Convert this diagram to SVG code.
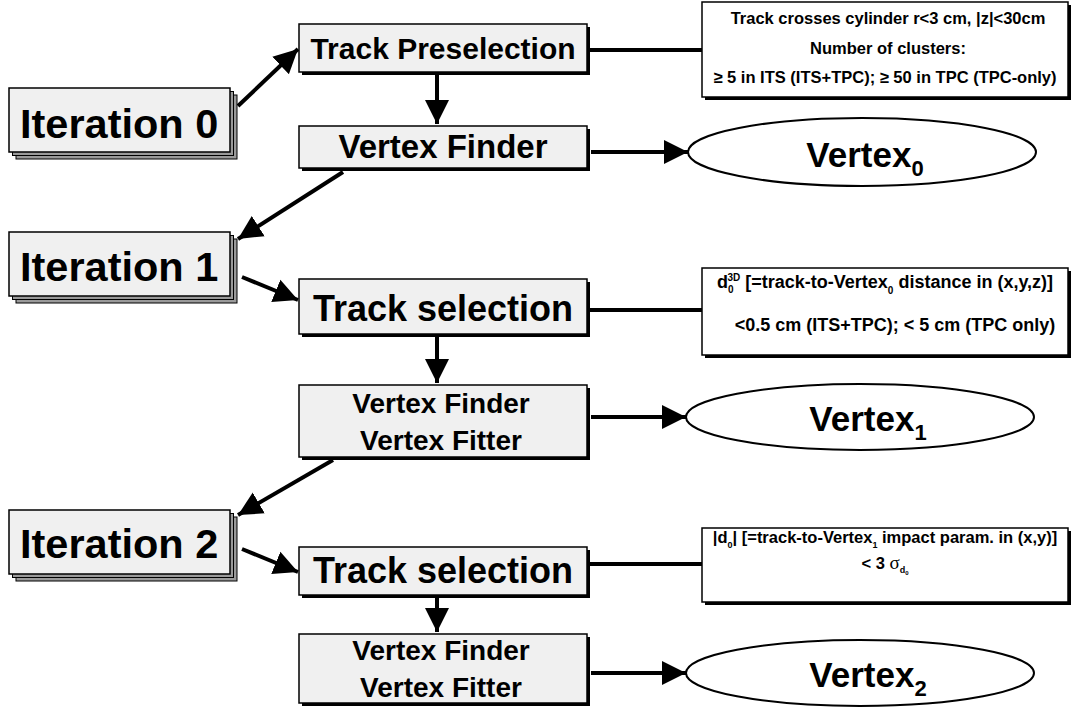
<svg xmlns="http://www.w3.org/2000/svg" width="1075" height="708" viewBox="0 0 1075 708">
  <defs>
    <marker id="arrow" viewBox="0 0 10 10" refX="10" refY="5" markerWidth="6" markerHeight="6.5" markerUnits="strokeWidth" orient="auto">
      <path d="M0,0 L10,5 L0,10 Z" fill="#000"/>
    </marker>
  </defs>
  <style>
    text { font-family: "Liberation Sans", Arial, sans-serif; font-weight: bold; fill: #000; }
    .box { fill: #f0f0f0; stroke: #000; stroke-width: 1.5; }
    .shadow { fill: #000; }
    .stack { fill: #9a9a9a; stroke: #000; stroke-width: 1; }
    .crit { fill: #fff; stroke: #000; stroke-width: 1.5; }
    .ell { fill: #fff; stroke: #000; stroke-width: 2; }
    .conn { stroke: #000; stroke-width: 4; fill: none; }
    .arr { marker-end: url(#arrow); }
    .iter { font-size: 41.5px; }
    .big { font-size: 30px; text-anchor: middle; }
    .mid { font-size: 28px; text-anchor: middle; }
    .vtx { font-size: 35px; text-anchor: middle; }
    .small { font-size: 16.5px; text-anchor: middle; }
    .med { font-size: 18px; text-anchor: middle; }
  </style>

  <!-- connectors -->
  <g id="connectors">
    <line class="conn arr" x1="238" y1="106" x2="298" y2="49"/>
    <line class="conn arr" x1="437" y1="74" x2="437" y2="124"/>
    <line class="conn arr" x1="591" y1="152" x2="688" y2="152"/>
    <line class="conn" x1="589" y1="50" x2="702" y2="50"/>
    <line class="conn arr" x1="343" y1="172" x2="238" y2="239"/>
    <line class="conn arr" x1="242" y1="277" x2="298" y2="300"/>
    <line class="conn arr" x1="437" y1="337" x2="437" y2="383"/>
    <line class="conn" x1="589" y1="310" x2="702" y2="310"/>
    <line class="conn arr" x1="591" y1="417" x2="686" y2="417"/>
    <line class="conn arr" x1="333" y1="460" x2="238" y2="515"/>
    <line class="conn arr" x1="242" y1="549" x2="298" y2="572"/>
    <line class="conn arr" x1="437" y1="598" x2="437" y2="632"/>
    <line class="conn" x1="589" y1="564" x2="702" y2="564"/>
    <line class="conn arr" x1="591" y1="673" x2="686" y2="673"/>
  </g>

  <!-- iteration labels (stacked cards) -->
  <g id="iteration0">
    <rect class="stack" x="16" y="95" width="221" height="64"/>
    <rect class="stack" x="12.5" y="91.5" width="221" height="64"/>
    <rect class="box" x="9" y="88" width="221" height="64"/>
    <text class="iter" x="20" y="138">Iteration 0</text>
  </g>
  <g id="iteration1">
    <rect class="stack" x="16" y="239" width="221" height="64"/>
    <rect class="stack" x="12.5" y="235.5" width="221" height="64"/>
    <rect class="box" x="9" y="232" width="221" height="64"/>
    <text class="iter" x="20" y="281">Iteration 1</text>
  </g>
  <g id="iteration2">
    <rect class="stack" x="16" y="517" width="221" height="64"/>
    <rect class="stack" x="12.5" y="513.5" width="221" height="64"/>
    <rect class="box" x="9" y="510" width="221" height="64"/>
    <text class="iter" x="20" y="558">Iteration 2</text>
  </g>

  <!-- process boxes -->
  <g id="track-preselection">
    <rect class="shadow" x="302" y="27" width="288" height="48"/>
    <rect class="box" x="299" y="24" width="288" height="48"/>
    <text class="big" x="443" y="59">Track Preselection</text>
  </g>
  <g id="vertex-finder-0">
    <rect class="shadow" x="302" y="129" width="288" height="42"/>
    <rect class="box" x="299" y="126" width="288" height="42"/>
    <text class="big" x="443" y="158" style="font-size:33px">Vertex Finder</text>
  </g>
  <g id="track-selection-1">
    <rect class="shadow" x="302" y="282" width="288" height="55"/>
    <rect class="box" x="299" y="279" width="288" height="55"/>
    <text class="big" x="443" y="321" style="font-size:36px">Track selection</text>
  </g>
  <g id="vertex-finder-fitter-1">
    <rect class="shadow" x="302" y="388" width="288" height="72"/>
    <rect class="box" x="299" y="385" width="288" height="72"/>
    <text class="mid" x="441" y="413">Vertex Finder</text>
    <text class="mid" x="441" y="450">Vertex Fitter</text>
  </g>
  <g id="track-selection-2">
    <rect class="shadow" x="302" y="550" width="288" height="48"/>
    <rect class="box" x="299" y="547" width="288" height="48"/>
    <text class="big" x="443" y="583" style="font-size:36px">Track selection</text>
  </g>
  <g id="vertex-finder-fitter-2">
    <rect class="shadow" x="302" y="637" width="288" height="69"/>
    <rect class="box" x="299" y="634" width="288" height="69"/>
    <text class="mid" x="441" y="660">Vertex Finder</text>
    <text class="mid" x="441" y="697">Vertex Fitter</text>
  </g>

  <!-- vertex results -->
  <g id="vertex0">
    <ellipse class="ell" cx="862" cy="152" rx="174" ry="34"/>
    <text class="vtx" x="865" y="167">Vertex<tspan font-size="22" dy="9">0</tspan></text>
  </g>
  <g id="vertex1">
    <ellipse class="ell" cx="860" cy="417" rx="174" ry="33"/>
    <text class="vtx" x="868" y="431">Vertex<tspan font-size="22" dy="9">1</tspan></text>
  </g>
  <g id="vertex2">
    <ellipse class="ell" cx="860" cy="673" rx="174" ry="33"/>
    <text class="vtx" x="868" y="687">Vertex<tspan font-size="22" dy="9">2</tspan></text>
  </g>

  <!-- selection criteria -->
  <g id="criteria0">
    <rect class="shadow" x="705" y="5" width="366" height="95"/>
    <rect class="crit" x="702" y="2" width="366" height="95"/>
    <text class="small" x="888" y="24">Track crosses cylinder r&lt;3 cm, |z|&lt;30cm</text>
    <text class="small" x="888" y="54">Number of clusters:</text>
    <text class="small" x="885" y="83">≥ 5 in ITS (ITS+TPC); ≥ 50 in TPC (TPC-only)</text>
  </g>
  <g id="criteria1">
    <rect class="shadow" x="705" y="271" width="366" height="87"/>
    <rect class="crit" x="702" y="268" width="366" height="87"/>
    <text class="med" x="885" y="288">d<tspan font-size="10" dy="5">0</tspan><tspan font-size="10" dx="-6" dy="-12">3D</tspan><tspan dy="7"> [=track-to-Vertex</tspan><tspan font-size="10" dy="6">0</tspan><tspan dy="-6"> distance in (x,y,z)]</tspan></text>
    <text class="med" x="895" y="331">&lt;0.5 cm (ITS+TPC); &lt; 5 cm (TPC only)</text>
  </g>
  <g id="criteria2">
    <rect class="shadow" x="705" y="531" width="366" height="74"/>
    <rect class="crit" x="702" y="528" width="366" height="74"/>
    <text class="small" x="885" y="543">|d<tspan font-size="9" dy="5">0</tspan><tspan dy="-5">| [=track-to-Vertex</tspan><tspan font-size="9" dy="5">1</tspan><tspan dy="-5"> impact param. in (x,y)]</tspan></text>
    <text class="small" x="885" y="569">&lt; 3 <tspan font-family="Liberation Serif, serif" font-weight="normal" font-size="19">σ</tspan><tspan font-size="9" dy="4">d</tspan><tspan font-size="6" dy="2">0</tspan></text>
  </g>
</svg>
